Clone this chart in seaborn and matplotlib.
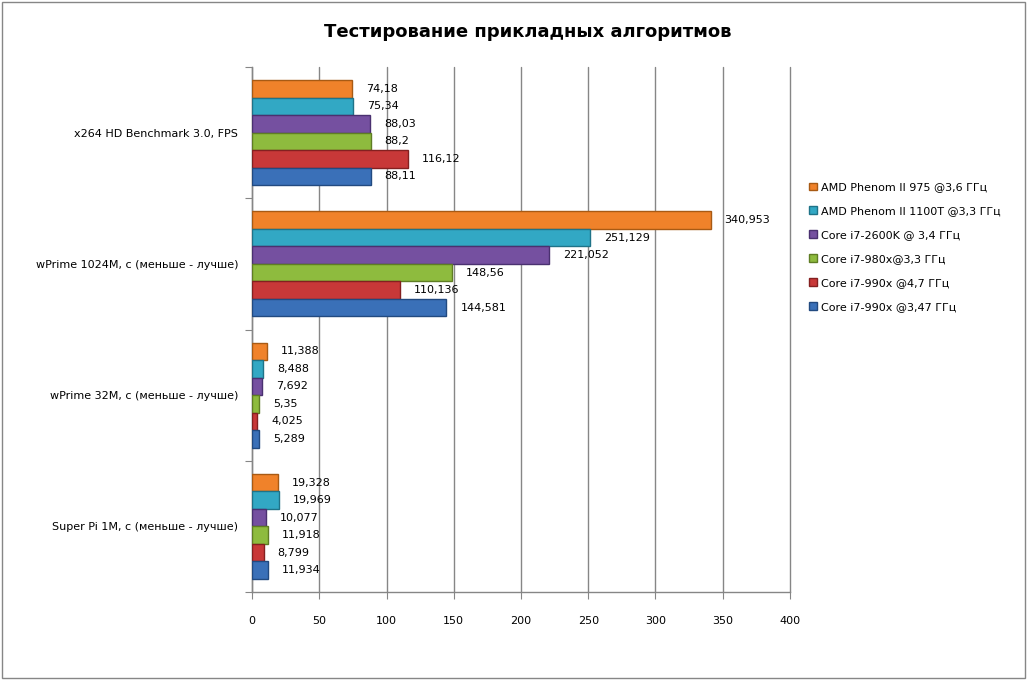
import pandas as pd
import seaborn as sns
import matplotlib.pyplot as plt
import matplotlib.patches as mpatches
import numpy as np

# Data
tests = ['x264 HD Benchmark 3.0, FPS', 'wPrime 1024M, с (меньше - лучше)',
         'wPrime 32M, с (меньше - лучше)', 'Super Pi 1M, с (меньше - лучше)']
cpus = ['AMD Phenom II 975 @3,6 ГГц', 'AMD Phenom II 1100T @3,3 ГГц',
        'Core i7-2600K @ 3,4 ГГц', 'Core i7-980x@3,3 ГГц',
        'Core i7-990x @4,7 ГГц', 'Core i7-990x @3,47 ГГц']
phenom_975 = [74.18, 340.953, 11.388, 19.328]
phenom_1100t = [75.34, 251.129, 8.488, 19.969]
i7_2600k = [88.03, 221.052, 7.692, 10.077]
i7_980x = [88.2, 148.56, 5.35, 11.918]
i7_990x_47 = [116.12, 110.136, 4.025, 8.799]
i7_990x_347 = [88.11, 144.581, 5.289, 11.934]
colors = ['#F0822A', '#32A8C4', '#7550A0', '#8EBB3E', '#C83838', '#3A70B8']
edges = ['#A85A14', '#1F7388', '#4A3170', '#5F7D24', '#842020', '#224A80']

series = [phenom_975, phenom_1100t, i7_2600k, i7_980x, i7_990x_47, i7_990x_347]
rows = []
for cpu, vals in zip(cpus, series):
    for t, v in zip(tests, vals):
        rows.append({'test': t, 'cpu': cpu, 'value': v})
df = pd.DataFrame(rows)

sns.set_style('white')
plt.rcParams['font.family'] = ['DejaVu Sans']
plt.rcParams['text.color'] = 'black'
plt.rcParams['xtick.color'] = 'black'
plt.rcParams['ytick.color'] = 'black'

fig = plt.figure(figsize=(10.27, 6.81), dpi=100)
ax = fig.add_axes([0.2454, 0.1307, 0.7692 - 0.2454, 0.9016 - 0.1307])

sns.barplot(data=df, x='value', y='test', hue='cpu', hue_order=cpus,
            order=tests, palette=colors, saturation=1, orient='h', width=0.8,
            ax=ax, legend=False, zorder=3)

# darker edges per series, value labels with comma decimals
for cont, ec in zip(ax.containers, edges):
    for bar in cont:
        bar.set_edgecolor(ec)
        bar.set_linewidth(1.0)
    labels = [('%g' % b.get_width()).replace('.', ',') for b in cont]
    ax.bar_label(cont, labels=labels, padding=10, fontsize=8, color='black')

ax.set_xlim(0, 400)
ax.set_xticks(np.arange(0, 401, 50))
ax.set_ylim(len(tests) - 0.5, -0.5)
ax.set_yticks(np.arange(-0.5, len(tests), 1.0), minor=False)
ax.set_yticklabels([])
ax.set_yticks(np.arange(len(tests)), minor=True)
ax.set_yticklabels(tests, minor=True)
ax.tick_params(axis='y', which='minor', length=0, labelsize=8, pad=10)
ax.tick_params(axis='y', which='major', length=5, color='#868686', direction='out', left=True)
ax.tick_params(axis='x', length=5, color='#868686', direction='out', bottom=True,
               labelsize=8, pad=12)
ax.set_xlabel('')
ax.set_ylabel('')
ax.grid(axis='x', color='#868686', linewidth=1, zorder=0)
ax.set_axisbelow(True)
for gl in ax.xaxis.get_gridlines():
    gl.set_clip_on(False)
for s in ['top', 'right']:
    ax.spines[s].set_visible(False)
for s in ['left', 'bottom']:
    ax.spines[s].set_color('#868686')
    ax.spines[s].set_linewidth(1)

handles = [mpatches.Patch(facecolor=c, edgecolor=e, label=l)
           for c, e, l in zip(colors, edges, cpus)]
fig.legend(handles=handles, loc='upper left', bbox_to_anchor=(0.778, 0.747),
           frameon=False, fontsize=8, handlelength=0.7, handleheight=0.7,
           handletextpad=0.4, labelspacing=1.25)

fig.text(0.514, 0.953, 'Тестирование прикладных алгоритмов', ha='center', va='center',
         fontsize=13, fontweight='bold', color='black')

fig.patches.append(mpatches.Rectangle((0.002, 0.005), 0.996, 0.992, transform=fig.transFigure,
                                      fill=False, edgecolor='#868686', linewidth=1))

fig.savefig('out.png', dpi=100)
